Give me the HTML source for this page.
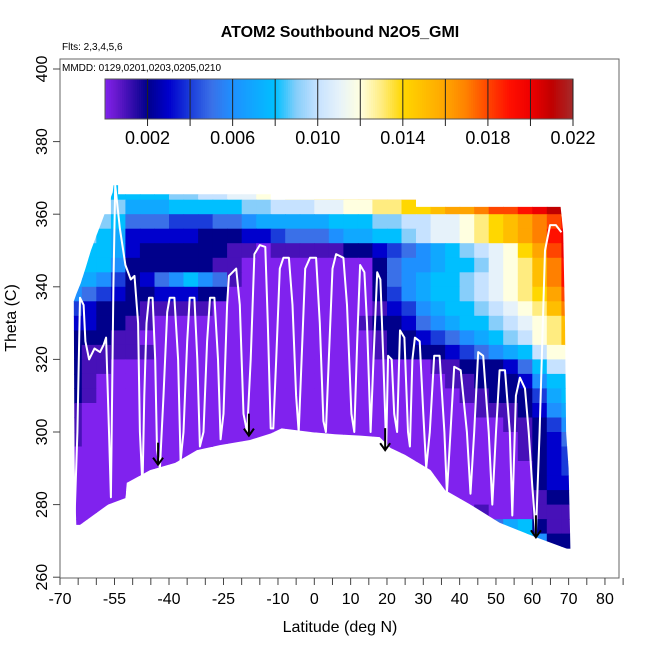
<!DOCTYPE html>
<html><head><meta charset="utf-8">
<style>
html,body{margin:0;padding:0;background:#fff;}
svg{display:block;font-family:"Liberation Sans",Arial,sans-serif;}
</style></head>
<body>
<svg id="chart" width="650" height="650" viewBox="0 0 650 650" xmlns="http://www.w3.org/2000/svg">
<text x="340" y="37" text-anchor="middle" font-size="16" font-weight="bold">ATOM2 Southbound N2O5_GMI</text>
<text x="62" y="50" font-size="10">Flts: 2,3,4,5,6</text>
<g id="plot"></g>
<rect x="60" y="59" width="559" height="519" fill="none" stroke="#666" stroke-width="1"/>
<text x="62" y="71" font-size="10">MMDD: 0129,0201,0203,0205,0210</text>
<g id="colorbar"></g>
<g id="axes"></g>
<text x="340" y="632" text-anchor="middle" font-size="16">Latitude (deg N)</text>
<text transform="translate(16,318) rotate(-90)" text-anchor="middle" font-size="16">Theta (C)</text>
</svg>
<script>
// ---- data ----
const latEdgeStart = -68, latStep = 4;
const thetaTop = 368, thetaStep = 4;
// each char = level index (value = idx*0.001); 0-9 then A..M ; '.' = no data
const gridRows = [
"...888899AABBCCDDEEEFFFGGGGGHHHIIJJ",
"...97778888899AAABBCCDDEEFGGHIIJKLL",
"..985554445567777788899AABBCDEFGHIJ",
".98733333222334555677889ABBCDEFGHJK",
".887322222211011111223456789ABCEGIK",
".8862222221100000000025667889BCDFHJ",
"7764235686510000000002567889ABCDFHJ",
"6543223332200000000002467889ABCDEGI",
"43222111110000000000013467889ABCDFH",
"332211000000000000001223567889ABCDF",
"2221100000000000000001223456789ACDF",
"21111100000000000000012222345678ACC",
"211"+"0000000000000000000000"+"11222358AA",
"21"+"000000000000000000000000"+"112223688",
"21"+"0000000000000000000000000"+"11222478",
"1"+"000000000000000000000000000"+"1112367",
"1"+"00000000000000000000000000000"+"11246",
"1"+"000000000000000000000000000000"+"1235",
"0000000000000000000000000000000"+"1234",
"00000000000000000000000000000000"+"234",
"00000000000000000000000000000000"+"233",
"00000000000000000000000000000000"+"122",
"0000000000000000000000000000"+"1000111",
"0000000000000000000000000000"+"2578211",
"000000000000000000000000000000"+"78622"
];
const boundLat = [-66.2,-65.5,-64.3,-63,-61.5,-60,-58.5,-57,-55.5,-55.2,-54,-54,-12,-12,28,28,67.8,68.5,69,69.3,70,70.5,70.5,61,51,43,36,32,25,21,18,12.7,5.7,-1,-9,-12,-17.7,-26,-32.3,-38.3,-45.2,-51.6,-52,-56.8,-64.5,-65.5,-66,-66.2];
const boundTheta = [336,338,341,345,350,354,358,362,366,368.5,368.5,365.5,365.5,364,364,362,362,355,330,300,290,268,267.5,271,275,280,284,289.5,293.7,295.6,298.6,299,299.4,300,301,299.6,297.8,296.4,295,291.5,289.5,286,281.8,280,274.4,274.4,290,336];
const trackLat = [-67.8,-67.2,-66.5,-66,-65.2,-64.5,-63.5,-63,-62,-60.5,-59,-58,-57.3,-56.5,-56,-55.3,-54.8,-53.5,-52,-50.5,-49.5,-48.5,-48,-47.3,-46.8,-46.2,-45.5,-44.5,-43.8,-43.3,-42.5,-41.5,-40.5,-39.8,-38.5,-37.5,-36.8,-36,-35,-34.3,-33,-32.2,-31.5,-30.5,-29.5,-28.7,-27.5,-26.5,-25.8,-25,-24,-23.5,-21.5,-20.5,-19.5,-18.5,-17.5,-16.5,-15,-13.5,-12.8,-12,-11.3,-10.5,-9.5,-8.5,-7,-6,-5,-4.3,-3.5,-2.5,-1.2,0.5,1.5,2.5,3.2,4,5,6,8,9,10.2,11,11.8,12.6,13.8,14.5,15.5,16.3,17.3,18.2,19,19.8,20.3,21.3,22,22.8,23.6,24.8,25.8,26.3,27,27.7,29,30,30.8,31.8,33,34.5,35.8,36.5,37.5,38.5,40.3,42,43,44,45.1,46.5,48,49,50,51,52.5,53.8,54.5,55.5,56.6,58,59,60,61,62,63.5,64.9,66.5,68];
const trackTheta = [333,337,310,276,300,337,335,325,320,323,322,324,326,300,282,340,368,356,346,342,343,330,300,285,310,330,337,337,320,295,290,310,333,337,337,320,292,300,325,337,337,320,296,300,325,337,337,320,298,305,335,343,345,335,305,300,320,349,351.5,351,330,301,301,320,345,348,348,335,310,300,320,345,348,348,330,303,300,320,345,349,348,335,305,300,325,346,344,330,300,320,344,342,320,296,321,320,305,300,328,326,300,296,320,326,325,305,290,300,321,321,300,283,300,318,317,300,283,300,322,321,300,280,300,317,317,300,277,310,315,312,300,285,272,300,350,357,357,355];
const arrowLat = [-43, -18, 19.5, 61];
const arrowTheta = [291, 299, 295, 271];
const cbTicks = [0.002,0.004,0.006,0.008,0.010,0.012,0.014,0.016,0.018,0.020,0.022];
const cbLabels = ["0.002","0.006","0.010","0.014","0.018","0.022"];
const xTickVals = [-70,-65,-60,-55,-50,-45,-40,-35,-30,-25,-20,-15,-10,-5,0,5,10,15,20,25,30,35,40,45,50,55,60,65,70,75,80,85];
const xLabelVals = [-70,-55,-40,-25,-10,0,10,20,30,40,50,60,70,80];
const yTickVals = [260,280,300,320,340,360,380,400];

// ---- scales ----
const X = lat => 60 + (lat + 70) * 3.633;
const Y = th => 69 + (400 - th) * 3.63;
const NS = "http://www.w3.org/2000/svg";
function mk(tag, attrs, parent){const e=document.createElementNS(NS,tag);for(const k in attrs)e.setAttribute(k,attrs[k]);parent.appendChild(e);return e;}
const stops = [[0,"#8022EE"],[0.0005,"#6A1ACF"],[0.002,"#00008B"],[0.003,"#0000CD"],[0.004,"#1A3CDA"],[0.005,"#3A70E8"],[0.006,"#1E90FF"],[0.007,"#10A8FF"],[0.008,"#00BFFF"],[0.009,"#87CEFA"],[0.010,"#C6E2FF"],[0.011,"#E6F2FA"],[0.012,"#FFFFE0"],[0.013,"#FFEC80"],[0.014,"#FFD700"],[0.015,"#FFBE00"],[0.016,"#FFA500"],[0.017,"#FF8000"],[0.018,"#FF4500"],[0.019,"#FF1000"],[0.020,"#EE0000"],[0.021,"#C00000"],[0.022,"#A52A2A"]];
function hex(h){return [parseInt(h.substr(1,2),16),parseInt(h.substr(3,2),16),parseInt(h.substr(5,2),16)];}
function cmap(v){
  if(v<=0)return stops[0][1];
  for(let i=1;i<stops.length;i++){if(v<=stops[i][0]){const a=hex(stops[i-1][1]),b=hex(stops[i][1]);const t=(v-stops[i-1][0])/(stops[i][0]-stops[i-1][0]);return "rgb("+a.map((c,j)=>Math.round(c+(b[j]-c)*t)).join(",")+")";}}
  return stops[stops.length-1][1];
}
const codes="0123456789ABCDEFGHIJKLM";

// ---- heatmap ----
const plot=document.getElementById("plot");
const defs=mk("defs",{},plot);
const cp=mk("clipPath",{id:"dataClip"},defs);
mk("polygon",{points:boundLat.map((l,i)=>X(l).toFixed(1)+","+Y(boundTheta[i]).toFixed(1)).join(" ")},cp);
const heat=mk("g",{"clip-path":"url(#dataClip)"},plot);


gridRows.forEach((row,r)=>{
  for(let c=0;c<row.length;c++){
    const idx=codes.indexOf(row[c]); if(idx<0)continue;
    const l0=latEdgeStart+c*latStep, l1=l0+latStep;
    const t1=thetaTop-r*thetaStep, t0=t1-thetaStep;
    const x0=X(l0), x1=X(l1), y0=Y(t1), y1=Y(t0);
    const cell=mk("rect",{x:x0.toFixed(1),y:y0.toFixed(1),width:(x1-x0+0.6).toFixed(1),height:(y1-y0+0.6).toFixed(1),fill:cmap(idx*0.001)},heat);
    
    
  }
});
// track
const tr=mk("polyline",{points:trackLat.map((l,i)=>X(l).toFixed(1)+","+Y(trackTheta[i]).toFixed(1)).join(" "),fill:"none",stroke:"#fff","stroke-width":"2","stroke-linejoin":"round"},plot);


// arrows
arrowLat.forEach((l,i)=>{
  const g=mk("g",{},plot);
  
  
  const x=X(l), yt=Y(arrowTheta[i]);
  mk("line",{x1:x,y1:yt-22,x2:x,y2:yt,stroke:"#000","stroke-width":"2"},g);
  mk("polyline",{points:(x-5)+","+(yt-7)+" "+x+","+yt+" "+(x+5)+","+(yt-7),fill:"none",stroke:"#000","stroke-width":"2"},g);
});

// ---- colorbar ----
const cb=document.getElementById("colorbar");
const cbx0=105,cbx1=573,cby0=79,cby1=119,vmax=0.022;
const CX=v=>cbx0+(v/vmax)*(cbx1-cbx0);
for(let i=0;i<220;i++){
  const v0=i*vmax/220;
  mk("rect",{x:CX(v0).toFixed(2),y:cby0,width:((cbx1-cbx0)/220+0.5).toFixed(2),height:cby1-cby0,fill:cmap(v0+vmax/440)},cb);
}
mk("rect",{x:cbx0,y:cby0,width:cbx1-cbx0,height:cby1-cby0,fill:"none",stroke:"#555","stroke-width":"1"},cb);
cbTicks.forEach(v=>{
  const x=CX(v);
  const t=mk("line",{x1:x,y1:cby0,x2:x,y2:cby1+7,stroke:"#222","stroke-width":"1"},cb);
  
  
});
cbLabels.forEach(s=>{
  const t=mk("text",{x:CX(parseFloat(s)),y:144,"text-anchor":"middle","font-size":"18"},cb);
  t.textContent=s;
  
  
});

// ---- axes ----
const ax=document.getElementById("axes");
xTickVals.forEach(v=>{
  const t=mk("line",{x1:X(v),y1:578,x2:X(v),y2:585,stroke:"#444","stroke-width":"1"},ax);
  
  
});
xLabelVals.forEach(v=>{
  const t=mk("text",{x:X(v),y:604,"text-anchor":"middle","font-size":"16"},ax);
  t.textContent=String(v);
  
  
});
yTickVals.forEach(v=>{
  const y=Y(v);
  const t=mk("line",{x1:53,y1:y,x2:60,y2:y,stroke:"#444","stroke-width":"1"},ax);
  
  
  const l=mk("text",{transform:"translate(47,"+y+") rotate(-90)","text-anchor":"middle","font-size":"16"},ax);
  l.textContent=String(v);
  
  
});
</script>
</body></html>
